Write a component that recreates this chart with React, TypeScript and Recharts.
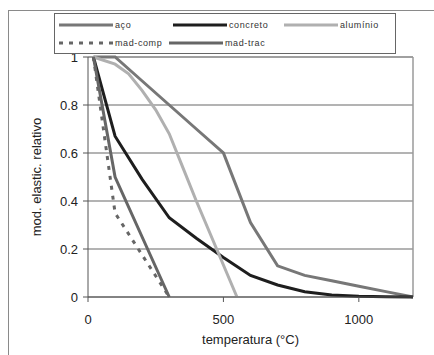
import { LineChart, Line, XAxis, YAxis, CartesianGrid, ReferenceLine } from 'recharts'

// temperatures (°C) per material
const acoTemps = [20, 100, 200, 300, 400, 500, 600, 700, 800, 900, 1000, 1100, 1200]
const acoValues = [1, 1, 0.9, 0.8, 0.7, 0.6, 0.31, 0.13, 0.09, 0.0675, 0.045, 0.0225, 0]

const concretoTemps = [20, 100, 200, 300, 400, 500, 600, 700, 800, 900, 1000, 1100, 1200]
const concretoValues = [1, 0.67, 0.49, 0.33, 0.245, 0.165, 0.09, 0.05, 0.022, 0.008, 0.003, 0.001, 0]

const aluminioTemps = [20, 100, 150, 200, 250, 300, 350, 400, 550]
const aluminioValues = [1, 0.97, 0.93, 0.86, 0.78, 0.68, 0.54, 0.4, 0]

const madeiraTemps = [20, 100, 300]
const madCompValues = [1, 0.35, 0]
const madTracValues = [1, 0.5, 0]

const xTicks = [0, 500, 1000]
const yTicks = [0, 0.2, 0.4, 0.6, 0.8, 1]

const toPoints = (temps: number[], values: number[]) =>
  temps.map((t, i) => ({ t, v: values[i] }))

const series = [
  { name: 'aço', data: toPoints(acoTemps, acoValues), color: '#777777', dash: undefined },
  { name: 'concreto', data: toPoints(concretoTemps, concretoValues), color: '#1e1e1e', dash: undefined },
  { name: 'alumínio', data: toPoints(aluminioTemps, aluminioValues), color: '#b0b0b0', dash: undefined },
  { name: 'mad-comp', data: toPoints(madeiraTemps, madCompValues), color: '#666666', dash: '4 6' },
  { name: 'mad-trac', data: toPoints(madeiraTemps, madTracValues), color: '#666666', dash: undefined },
]

const font = 'Arial, "Liberation Sans", sans-serif'

const LegendItem = ({ name, color, dash, left, top }: any) => (
  <div style={{ position: 'absolute', left, top, display: 'flex', alignItems: 'center' }}>
    <svg width={56} height={6}>
      <line x1={1} y1={3} x2={55} y2={3} stroke={color} strokeWidth={3} strokeDasharray={dash} />
    </svg>
    <span style={{ fontSize: 9, letterSpacing: 0.6, color: '#333', marginLeft: 1 }}>{name}</span>
  </div>
)

const App = () => {
  const legendPos = [
    { left: 3, top: 6 },
    { left: 117, top: 6 },
    { left: 228, top: 6 },
    { left: 3, top: 24 },
    { left: 113, top: 24 },
  ]

  return (
    <div style={{ position: 'absolute', left: 0, top: 0, width: 434, height: 355, background: '#fff', fontFamily: font }}>
      <div style={{ position: 'absolute', left: 8, top: 10, width: 440, height: 360, borderLeft: '1px solid #8a8a8a', borderTop: '1px solid #8a8a8a' }} />
      <LineChart width={434} height={355} data={[]} margin={{ top: 57, right: 21, bottom: 0, left: 28 }} style={{ position: 'absolute', left: 0, top: 0 }}>
        <CartesianGrid horizontal vertical={false} stroke="#9a9a9a" strokeWidth={1.5} />
        <XAxis
          type="number"
          dataKey="t"
          domain={[0, 1200]}
          ticks={xTicks}
          stroke="#555"
          tickSize={5}
          tickMargin={13}
          tick={{ fill: '#222', fontSize: 13, fontFamily: font }}
          height={58}
          label={{
            content: ({ viewBox }: any) => (
              <text x={viewBox.x + viewBox.width / 2} y={344} textAnchor="middle" fontSize={13} fontFamily={font} fill="#222">
                temperatura (°C)
              </text>
            ),
          }}
        />
        <YAxis
          type="number"
          domain={[0, 1]}
          ticks={yTicks}
          stroke="#555"
          tickSize={5}
          tickMargin={5}
          width={60}
          tickFormatter={(v: number) => String(v)}
          tick={{ fill: '#222', fontSize: 13, fontFamily: font }}
          label={{
            content: ({ viewBox }: any) => {
              const cy = viewBox.y + viewBox.height / 2
              return (
                <text x={41} y={cy} transform={`rotate(-90 41 ${cy})`} textAnchor="middle" fontSize={13} fontFamily={font} fill="#222">
                  mod. elastic. relativo
                </text>
              )
            },
          }}
        />
        <ReferenceLine y={1} stroke="#9a9a9a" strokeWidth={1.5} />
        <ReferenceLine x={1200} stroke="#9a9a9a" strokeWidth={1.5} />
        {series.map((s) => (
          <Line
            key={s.name}
            data={s.data}
            dataKey="v"
            name={s.name}
            type="linear"
            stroke={s.color}
            strokeWidth={3}
            strokeDasharray={s.dash}
            dot={false}
            isAnimationActive={false}
          />
        ))}
      </LineChart>
      <div style={{ position: 'absolute', left: 54, top: 13, width: 340, height: 39, border: '1px solid #666', background: '#fff', fontFamily: font }}>
        {series.map((s, i) => (
          <LegendItem key={s.name} name={s.name} color={s.color} dash={s.dash} left={legendPos[i].left} top={legendPos[i].top} />
        ))}
      </div>
    </div>
  )
}

export default App
